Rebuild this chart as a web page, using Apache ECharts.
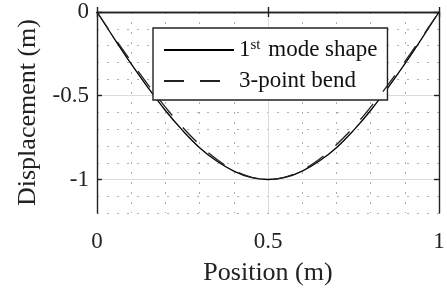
<!DOCTYPE html>
<html>
<head>
<meta charset="utf-8">
<script src="https://cdn.jsdelivr.net/npm/echarts@6/dist/echarts.min.js"></script>
<style>
html,body{margin:0;padding:0;background:#fff;}
#main{width:447px;height:291px;}
</style>
</head>
<body>
<div id="main"></div>
<script>
// position along the beam (m)
var positions = [0, 0.05, 0.1, 0.15, 0.2, 0.25, 0.3, 0.35, 0.4, 0.45, 0.5,
                 0.55, 0.6, 0.65, 0.7, 0.75, 0.8, 0.85, 0.9, 0.95, 1];
// 1st mode shape (m)
var modeShape = [0, -0.157, -0.31, -0.454, -0.588, -0.707, -0.81, -0.89, -0.95, -0.988, -1,
                 -0.988, -0.95, -0.89, -0.81, -0.707, -0.588, -0.454, -0.31, -0.157, 0];
// 3-point bend (m)
var threePoint = [0, -0.15, -0.296, -0.437, -0.568, -0.688, -0.792, -0.879, -0.944, -0.986, -1,
                  -0.986, -0.944, -0.879, -0.792, -0.688, -0.568, -0.437, -0.296, -0.15, 0];
var seriesNames = ['1st mode shape', '3-point bend'];
var yTicks = [0, -0.5, -1];

var FONT = 'Liberation Serif';

function pairs(xs, ys) {
  var out = [];
  for (var i = 0; i < xs.length; i++) out.push([xs[i], ys[i]]);
  return out;
}

var dotted = {show: true, lineStyle: {color: '#b0b0b0', width: 1, type: [2, 8]}};
var major = {show: true, lineStyle: {color: '#dcdcdc', width: 1}};
var blackLine = {show: true, lineStyle: {color: '#222', width: 1.4}};
var tickIn = {show: true, inside: true, length: 5, lineStyle: {color: '#222', width: 1.4}};

var myChart = echarts.init(document.getElementById('main'));
var option = {
  animation: false,
  backgroundColor: '#fff',
  textStyle: {fontFamily: FONT},
  grid: {left: 97, right: 8, top: 12, bottom: 78, outerBoundsMode: 'none'},
  legend: {
    left: 153, top: 28,
    orient: 'vertical',
    padding: [10, 10, 7, 10],
    itemGap: 6,
    itemWidth: 70,
    itemHeight: 14,
    backgroundColor: '#fff',
    borderColor: '#222',
    borderWidth: 1.4,
    borderRadius: 0,
    itemStyle: {opacity: 0},
    data: seriesNames,
    formatter: function (name) {
      if (name == seriesNames[0]) return '1{sup|st} mode shape';
      return name;
    },
    textStyle: {
      fontFamily: FONT, fontSize: 23, color: '#111', lineHeight: 24,
      rich: {
        sup: {fontFamily: FONT, fontSize: 15, verticalAlign: 'top', lineHeight: 24, padding: [0, 2, 10, 0]}
      }
    }
  },
  xAxis: [
    {
      type: 'value', min: 0, max: 1, interval: 0.5, position: 'bottom',
      axisLine: blackLine,
      axisTick: tickIn,
      axisLabel: {fontFamily: FONT, fontSize: 23, color: '#222', margin: 17,
        formatter: function (v) { return String(v); }},
      minorTick: {show: false, splitNumber: 5},
      minorSplitLine: dotted,
      splitLine: major,
      name: 'Position (m)', nameLocation: 'middle', nameGap: 47,
      nameTextStyle: {fontFamily: FONT, fontSize: 26, color: '#222'}
    },
    {
      type: 'value', min: 0, max: 1, interval: 0.5, position: 'top',
      axisLine: blackLine,
      axisTick: tickIn,
      axisLabel: {show: false},
      splitLine: {show: false}
    }
  ],
  yAxis: [
    {
      type: 'value', min: -1.2, max: 0, interval: 0.1, position: 'left',
      axisLine: blackLine,
      axisTick: {show: false},
      axisLabel: {show: false},
      splitLine: dotted
    },
    {
      type: 'value', min: -1.2, max: 0, position: 'left',
      axisLine: {show: false},
      axisTick: {show: true, inside: true, length: 5, customValues: yTicks,
        lineStyle: {color: '#222', width: 1.4}},
      axisLabel: {customValues: yTicks, fontFamily: FONT, fontSize: 23, color: '#222', margin: 8,
        formatter: function (v) { return String(v); }},
      splitLine: major,
      name: 'Displacement (m)', nameLocation: 'middle', nameGap: 56,
      nameTextStyle: {fontFamily: FONT, fontSize: 26, color: '#222'}
    },
    {
      type: 'value', min: -1.2, max: 0, position: 'right',
      axisLine: blackLine,
      axisTick: {show: true, inside: true, length: 5, customValues: yTicks,
        lineStyle: {color: '#222', width: 1.4}},
      axisLabel: {show: false},
      splitLine: {show: false}
    }
  ],
  series: [
    {
      name: seriesNames[0], type: 'line', xAxisIndex: 0, yAxisIndex: 0,
      data: pairs(positions, modeShape),
      smooth: 0.4, symbol: 'none', showSymbol: false,
      lineStyle: {color: '#000', width: 1.3},
      z: 3
    },
    {
      name: seriesNames[1], type: 'line', xAxisIndex: 0, yAxisIndex: 0,
      data: pairs(positions, threePoint),
      smooth: 0.4, symbol: 'none', showSymbol: false,
      lineStyle: {color: '#222', width: 1.3, type: [20, 16]},
      z: 4
    }
  ]
};
myChart.setOption(option);
</script>
</body>
</html>
